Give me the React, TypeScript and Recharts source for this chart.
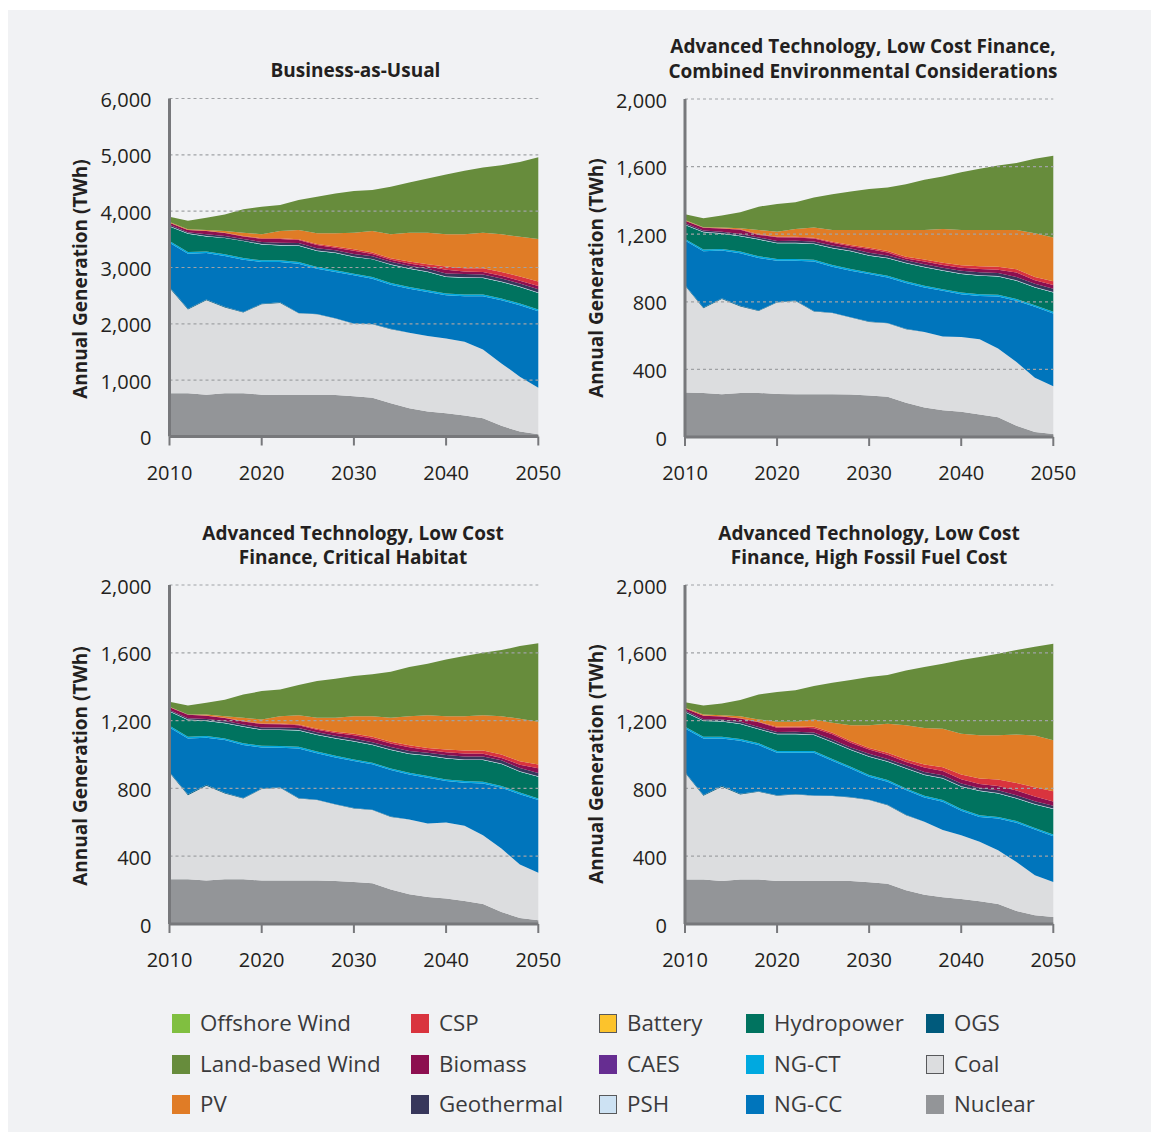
import React from 'react';
import { AreaChart, Area, XAxis, YAxis, ReferenceLine } from 'recharts';

// ---------- shared axis data ----------
const years = [2010, 2012, 2014, 2016, 2018, 2020, 2022, 2024, 2026, 2028, 2030, 2032, 2034, 2036, 2038, 2040, 2042, 2044, 2046, 2048, 2050];
const xTicks = [2010, 2020, 2030, 2040, 2050];
const bauTicks = [0, 1000, 2000, 3000, 4000, 5000, 6000];
const atbTicks = [0, 400, 800, 1200, 1600, 2000];

// stack order, bottom to top
const seriesNames = ['Nuclear', 'Coal', 'OGS', 'NG-CC', 'NG-CT', 'Hydropower', 'PSH', 'CAES', 'Battery', 'Geothermal', 'Biomass', 'CSP', 'PV', 'Land-based Wind', 'Offshore Wind'];
const seriesColors = ['#939598', '#dcdddf', '#005a7c', '#0075bc', '#00a9e0', '#00735f', '#cde2f3', '#662d91', '#fcc32c', '#37375b', '#8d0f50', '#d9343e', '#e07c26', '#678c3c', '#80bf40'];
const borderedSwatches = ['Battery', 'PSH', 'Coal'];

const noGeneration = [0, 0, 0, 0, 0, 0, 0, 0, 0, 0, 0, 0, 0, 0, 0, 0, 0, 0, 0, 0, 0];

// ---------- Business-as-Usual ----------
const bauNuclear = [767, 767, 743, 767, 767, 743, 737, 737, 737, 737, 714, 690, 590, 501, 442, 413, 372, 324, 189, 88, 41];
const bauCoal = [1870, 1487, 1676, 1522, 1434, 1605, 1635, 1452, 1434, 1357, 1286, 1304, 1316, 1340, 1340, 1327, 1309, 1222, 1109, 974, 826];
const bauOgs = [15, 15, 15, 15, 10, 10, 10, 5, 5, 5, 5, 5, 5, 0, 0, 0, 0, 0, 0, 0, 0];
const bauNgcc = [787, 975, 822, 899, 927, 739, 715, 873, 803, 821, 856, 803, 785, 784, 784, 767, 808, 943, 1120, 1268, 1357];
const bauNgct = [30, 30, 30, 30, 30, 30, 30, 30, 30, 30, 30, 30, 30, 30, 30, 30, 30, 30, 30, 30, 30];
const bauHydro = [260, 325, 266, 289, 301, 283, 265, 289, 283, 307, 295, 313, 324, 324, 324, 295, 301, 295, 295, 295, 295];
const bauPsh = [8, 8, 8, 8, 8, 8, 8, 8, 8, 8, 8, 8, 8, 8, 8, 8, 8, 8, 8, 8, 8];
const bauGeo = [20, 20, 30, 30, 30, 35, 40, 40, 40, 40, 45, 45, 45, 45, 50, 55, 55, 55, 55, 55, 55];
const bauBio = [37, 37, 58, 54, 45, 55, 66, 52, 58, 46, 60, 42, 33, 38, 40, 65, 44, 45, 46, 47, 59];
const bauCsp = [2, 2, 6, 5, 8, 10, 12, 15, 20, 20, 25, 25, 28, 35, 40, 57, 60, 65, 70, 75, 80];
const bauPv = [12, 12, 12, 29, 59, 71, 130, 165, 189, 236, 295, 383, 425, 514, 561, 572, 602, 632, 667, 708, 756];
const bauWind = [94, 153, 218, 295, 413, 490, 460, 531, 649, 708, 737, 726, 844, 890, 961, 1062, 1127, 1156, 1227, 1327, 1451];

// ---------- Advanced Technology, Low Cost Finance, Combined Environmental ----------
const combNuclear = [263, 261, 253, 261, 261, 255, 253, 253, 253, 251, 246, 238, 202, 174, 158, 149, 133, 117, 67, 30, 18];
const combCoal = [632, 501, 563, 511, 485, 541, 551, 490, 480, 456, 435, 435, 436, 448, 436, 443, 445, 406, 377, 320, 283];
const combOgs = [5, 5, 5, 5, 3, 3, 3, 2, 2, 2, 2, 2, 2, 0, 0, 0, 0, 0, 0, 0, 0];
const combNgcc = [262, 332, 282, 310, 310, 244, 236, 294, 273, 275, 281, 269, 271, 263, 271, 253, 257, 309, 362, 420, 430];
const combNgct = [10, 10, 10, 10, 10, 10, 10, 10, 10, 10, 10, 10, 10, 10, 10, 10, 10, 10, 10, 10, 10];
const combHydro = [83, 103, 89, 91, 99, 93, 93, 93, 99, 105, 99, 103, 107, 109, 109, 109, 109, 108, 109, 105, 114];
const combPsh = [3, 3, 3, 3, 3, 3, 3, 3, 3, 3, 3, 3, 3, 3, 3, 3, 3, 3, 3, 3, 3];
const combGeo = [7, 7, 9, 10, 10, 11, 12, 12, 13, 13, 14, 14, 15, 15, 15, 17, 18, 18, 19, 19, 19];
const combBio = [14, 16, 19, 26, 15, 22, 20, 17, 16, 14, 22, 17, 10, 16, 16, 18, 19, 18, 26, 20, 23];
const combCsp = [1, 1, 2, 2, 3, 3, 4, 5, 6, 7, 8, 9, 10, 12, 13, 15, 17, 18, 20, 20, 22];
const combPv = [4, 2, 4, 6, 26, 30, 46, 60, 70, 89, 105, 125, 159, 175, 200, 208, 214, 218, 232, 258, 259];
const combWind = [34, 53, 71, 95, 138, 164, 158, 178, 212, 227, 243, 251, 271, 297, 310, 342, 362, 382, 396, 441, 483];

// ---------- Advanced Technology, Low Cost Finance, Critical Habitat ----------
const habNuclear = [264, 264, 256, 264, 264, 256, 256, 256, 256, 254, 248, 240, 203, 175, 160, 150, 136, 118, 71, 35, 22];
const habCoal = [628, 496, 560, 506, 477, 540, 548, 485, 475, 451, 434, 432, 429, 442, 433, 449, 443, 406, 374, 316, 281];
const habOgs = [5, 5, 5, 5, 3, 3, 3, 2, 2, 2, 2, 2, 2, 0, 0, 0, 0, 0, 0, 0, 0];
const habNgcc = [263, 330, 278, 310, 312, 243, 233, 293, 274, 276, 277, 268, 274, 265, 270, 244, 254, 305, 359, 415, 428];
const habNgct = [10, 10, 10, 10, 10, 10, 10, 10, 10, 10, 10, 10, 10, 10, 10, 10, 10, 10, 10, 10, 10];
const habHydro = [83, 99, 89, 89, 98, 93, 95, 95, 98, 102, 105, 104, 108, 111, 120, 124, 124, 128, 130, 122, 128];
const habPsh = [3, 3, 3, 3, 3, 3, 3, 3, 3, 3, 3, 3, 3, 3, 3, 3, 3, 3, 3, 3, 3];
const habGeo = [7, 7, 9, 10, 10, 11, 12, 12, 13, 13, 14, 14, 15, 15, 15, 17, 18, 18, 19, 19, 19];
const habBio = [16, 21, 18, 18, 17, 21, 19, 16, 15, 16, 21, 22, 21, 22, 15, 17, 18, 17, 14, 20, 28];
const habCsp = [1, 1, 2, 2, 3, 3, 4, 5, 6, 7, 8, 9, 10, 12, 13, 15, 17, 18, 20, 20, 22];
const habPv = [2, 0, 6, 9, 20, 24, 43, 55, 65, 83, 104, 122, 142, 171, 193, 197, 203, 209, 226, 251, 252];
const habWind = [29, 53, 69, 97, 137, 167, 158, 178, 216, 230, 237, 247, 271, 290, 304, 335, 355, 369, 390, 429, 463];

// ---------- Advanced Technology, Low Cost Finance, High Fossil Fuel Cost ----------
const fosNuclear = [262, 262, 254, 262, 262, 254, 254, 254, 254, 254, 246, 238, 199, 173, 158, 148, 134, 118, 77, 51, 41];
const fosCoal = [630, 494, 556, 502, 518, 502, 510, 502, 501, 493, 485, 463, 443, 430, 396, 376, 351, 317, 289, 237, 207];
const fosOgs = [5, 5, 5, 5, 3, 3, 3, 2, 2, 2, 2, 2, 2, 0, 0, 0, 0, 0, 0, 0, 0];
const fosNgcc = [257, 334, 280, 312, 273, 251, 243, 252, 206, 169, 136, 136, 146, 143, 167, 144, 147, 187, 231, 269, 270];
const fosNgct = [10, 10, 10, 10, 10, 10, 10, 10, 10, 10, 10, 10, 10, 10, 10, 10, 10, 10, 10, 10, 10];
const fosHydro = [85, 93, 89, 89, 83, 99, 99, 95, 99, 98, 108, 108, 118, 123, 128, 132, 142, 138, 134, 138, 150];
const fosPsh = [3, 3, 3, 3, 3, 3, 3, 3, 3, 3, 3, 3, 3, 3, 3, 3, 3, 3, 3, 3, 3];
const fosGeo = [7, 7, 9, 10, 10, 11, 12, 12, 13, 13, 14, 14, 15, 15, 15, 16, 16, 16, 16, 16, 16];
const fosBio = [12, 21, 18, 19, 28, 25, 25, 25, 32, 28, 25, 24, 20, 26, 26, 25, 23, 25, 27, 28, 26];
const fosCsp = [1, 1, 2, 2, 3, 5, 6, 8, 8, 9, 10, 12, 14, 18, 22, 28, 32, 38, 45, 55, 60];
const fosPv = [4, 6, 6, 12, 14, 30, 28, 44, 59, 94, 134, 171, 203, 216, 227, 240, 256, 262, 286, 305, 301];
const fosWind = [33, 53, 69, 95, 147, 176, 186, 197, 236, 266, 284, 288, 323, 359, 384, 435, 461, 481, 498, 524, 570];

const FONT = '"Open Sans", "DejaVu Sans", sans-serif';
const TEXT = '#231f20';
const AXIS = '#77787b';

function buildRows(series: number[][]) {
  return years.map((year, i) => {
    const row: Record<string, number> = { year };
    seriesNames.forEach((name, j) => {
      row[name] = series[j][i];
    });
    return row;
  });
}

const bauRows = buildRows([bauNuclear, bauCoal, bauOgs, bauNgcc, bauNgct, bauHydro, bauPsh, noGeneration, noGeneration, bauGeo, bauBio, bauCsp, bauPv, bauWind, noGeneration]);
const combRows = buildRows([combNuclear, combCoal, combOgs, combNgcc, combNgct, combHydro, combPsh, noGeneration, noGeneration, combGeo, combBio, combCsp, combPv, combWind, noGeneration]);
const habRows = buildRows([habNuclear, habCoal, habOgs, habNgcc, habNgct, habHydro, habPsh, noGeneration, noGeneration, habGeo, habBio, habCsp, habPv, habWind, noGeneration]);
const fosRows = buildRows([fosNuclear, fosCoal, fosOgs, fosNgcc, fosNgct, fosHydro, fosPsh, noGeneration, noGeneration, fosGeo, fosBio, fosCsp, fosPv, fosWind, noGeneration]);

type PanelProps = {
  rows: Record<string, number>[];
  ticks: number[];
  left: number;
  top: number;
  width: number;
  height: number;
  plotLeft: number;
  plotRight: number;
  plotTop: number;
  plotBottom: number;
};

const Y_AXIS_W = 100;
const X_AXIS_H = 50;

function Panel(p: PanelProps) {
  const yMax = p.ticks[p.ticks.length - 1];
  const margin = {
    top: p.plotTop - p.top,
    left: p.plotLeft - p.left - Y_AXIS_W,
    right: p.left + p.width - p.plotRight,
    bottom: p.top + p.height - p.plotBottom - X_AXIS_H,
  };
  return (
    <div style={{ position: 'absolute', left: p.left, top: p.top }}>
      <AreaChart width={p.width} height={p.height} data={p.rows} margin={margin}>
        <XAxis
          type="number"
          dataKey="year"
          domain={[2010, 2050]}
          ticks={xTicks}
          interval={0}
          height={X_AXIS_H}
          axisLine={{ stroke: AXIS, strokeWidth: 3 }}
          tickLine={{ stroke: AXIS, strokeWidth: 2 }}
          tickSize={9}
          tickMargin={20}
          tick={{ fill: TEXT, fontSize: 20, fontFamily: FONT }}
        />
        <YAxis
          type="number"
          domain={[0, yMax]}
          ticks={p.ticks}
          interval={0}
          width={Y_AXIS_W}
          axisLine={{ stroke: AXIS, strokeWidth: 3 }}
          tickLine={false}
          tickSize={0}
          tickMargin={18}
          tick={{ fill: TEXT, fontSize: 20, fontFamily: FONT, dy: 1.5 }}
          tickFormatter={(v: number) => v.toLocaleString('en-US')}
        />
        {seriesNames.map((name, j) => (
          <Area
            key={name}
            type="linear"
            dataKey={name}
            stackId="gen"
            fill={seriesColors[j]}
            fillOpacity={1}
            stroke="none"
            isAnimationActive={false}
            dot={false}
            activeDot={false}
          />
        ))}
        {p.ticks.filter((t) => t > 0).map((t) => (
          <ReferenceLine key={t} y={t} stroke="#a0a2a5" strokeWidth={1.2} strokeDasharray="3 3" />
        ))}
      </AreaChart>
    </div>
  );
}

function Title({ lines, cx, firstY }: { lines: string[]; cx: number; firstY: number }) {
  return (
    <div
      style={{
        position: 'absolute',
        left: cx - 260,
        top: firstY - 12.5,
        width: 520,
        textAlign: 'center',
        fontFamily: FONT,
        fontWeight: 700,
        fontSize: 19,
        lineHeight: '24.5px',
        color: TEXT,
        whiteSpace: 'nowrap',
      }}
    >
      {lines.map((l) => (
        <div key={l}>{l}</div>
      ))}
    </div>
  );
}

function YLabel({ cx, cy }: { cx: number; cy: number }) {
  return (
    <div
      style={{
        position: 'absolute',
        left: cx - 160,
        top: cy - 12,
        width: 320,
        height: 24,
        lineHeight: '24px',
        textAlign: 'center',
        transform: 'rotate(-90deg)',
        fontFamily: FONT,
        fontWeight: 700,
        fontSize: 19,
        color: TEXT,
        whiteSpace: 'nowrap',
      }}
    >
      Annual Generation (TWh)
    </div>
  );
}

const legendColumnsX = [172, 411, 599, 746, 926];
const legendRowsY = [1023, 1064, 1104];

function Legend() {
  const items = [...seriesNames].reverse();
  return (
    <>
      {items.map((name, k) => {
        const col = Math.floor(k / 3);
        const row = k % 3;
        const color = seriesColors[seriesNames.indexOf(name)];
        const bordered = borderedSwatches.includes(name);
        const x = legendColumnsX[col];
        const y = legendRowsY[row];
        return (
          <React.Fragment key={name}>
            <div
              style={{
                position: 'absolute',
                left: x,
                top: y - 9.5,
                width: 18,
                height: 19,
                boxSizing: 'border-box',
                background: color,
                border: bordered ? '1.5px solid #58595b' : 'none',
              }}
            />
            <div
              style={{
                position: 'absolute',
                left: x + 28,
                top: y - 15,
                height: 30,
                lineHeight: '30px',
                fontFamily: FONT,
                fontSize: 22.3,
                color: '#3a3a3c',
                whiteSpace: 'nowrap',
              }}
            >
              {name}
            </div>
          </React.Fragment>
        );
      })}
    </>
  );
}

export default function App() {
  return (
    <div style={{ position: 'absolute', left: 0, top: 0, width: 1151, height: 1132, background: '#ffffff', overflow: 'hidden' }}>
      <div style={{ position: 'absolute', left: 8, top: 10, right: 0, bottom: 0, background: '#f1f2f4' }} />
      <Title lines={['Business-as-Usual']} cx={355.5} firstY={70.7} />
      <Title lines={['Advanced Technology, Low Cost Finance,', 'Combined Environmental Considerations']} cx={863} firstY={46.5} />
      <Title lines={['Advanced Technology, Low Cost', 'Finance, Critical Habitat']} cx={353} firstY={533} />
      <Title lines={['Advanced Technology, Low Cost', 'Finance, High Fossil Fuel Cost']} cx={869} firstY={533} />
      <YLabel cx={80} cy={279} />
      <YLabel cx={596} cy={278} />
      <YLabel cx={80} cy={766} />
      <YLabel cx={596} cy={764} />
      <Panel rows={bauRows} ticks={bauTicks} left={0} top={0} width={575} height={500} plotLeft={169.5} plotRight={538.3} plotTop={98.5} plotBottom={436.5} />
      <Panel rows={combRows} ticks={atbTicks} left={575} top={0} width={576} height={500} plotLeft={685} plotRight={1053.3} plotTop={99} plotBottom={437} />
      <Panel rows={habRows} ticks={atbTicks} left={0} top={500} width={575} height={500} plotLeft={169.5} plotRight={538.3} plotTop={585} plotBottom={924} />
      <Panel rows={fosRows} ticks={atbTicks} left={575} top={500} width={576} height={500} plotLeft={685} plotRight={1053.3} plotTop={585} plotBottom={924} />
      <Legend />
    </div>
  );
}
